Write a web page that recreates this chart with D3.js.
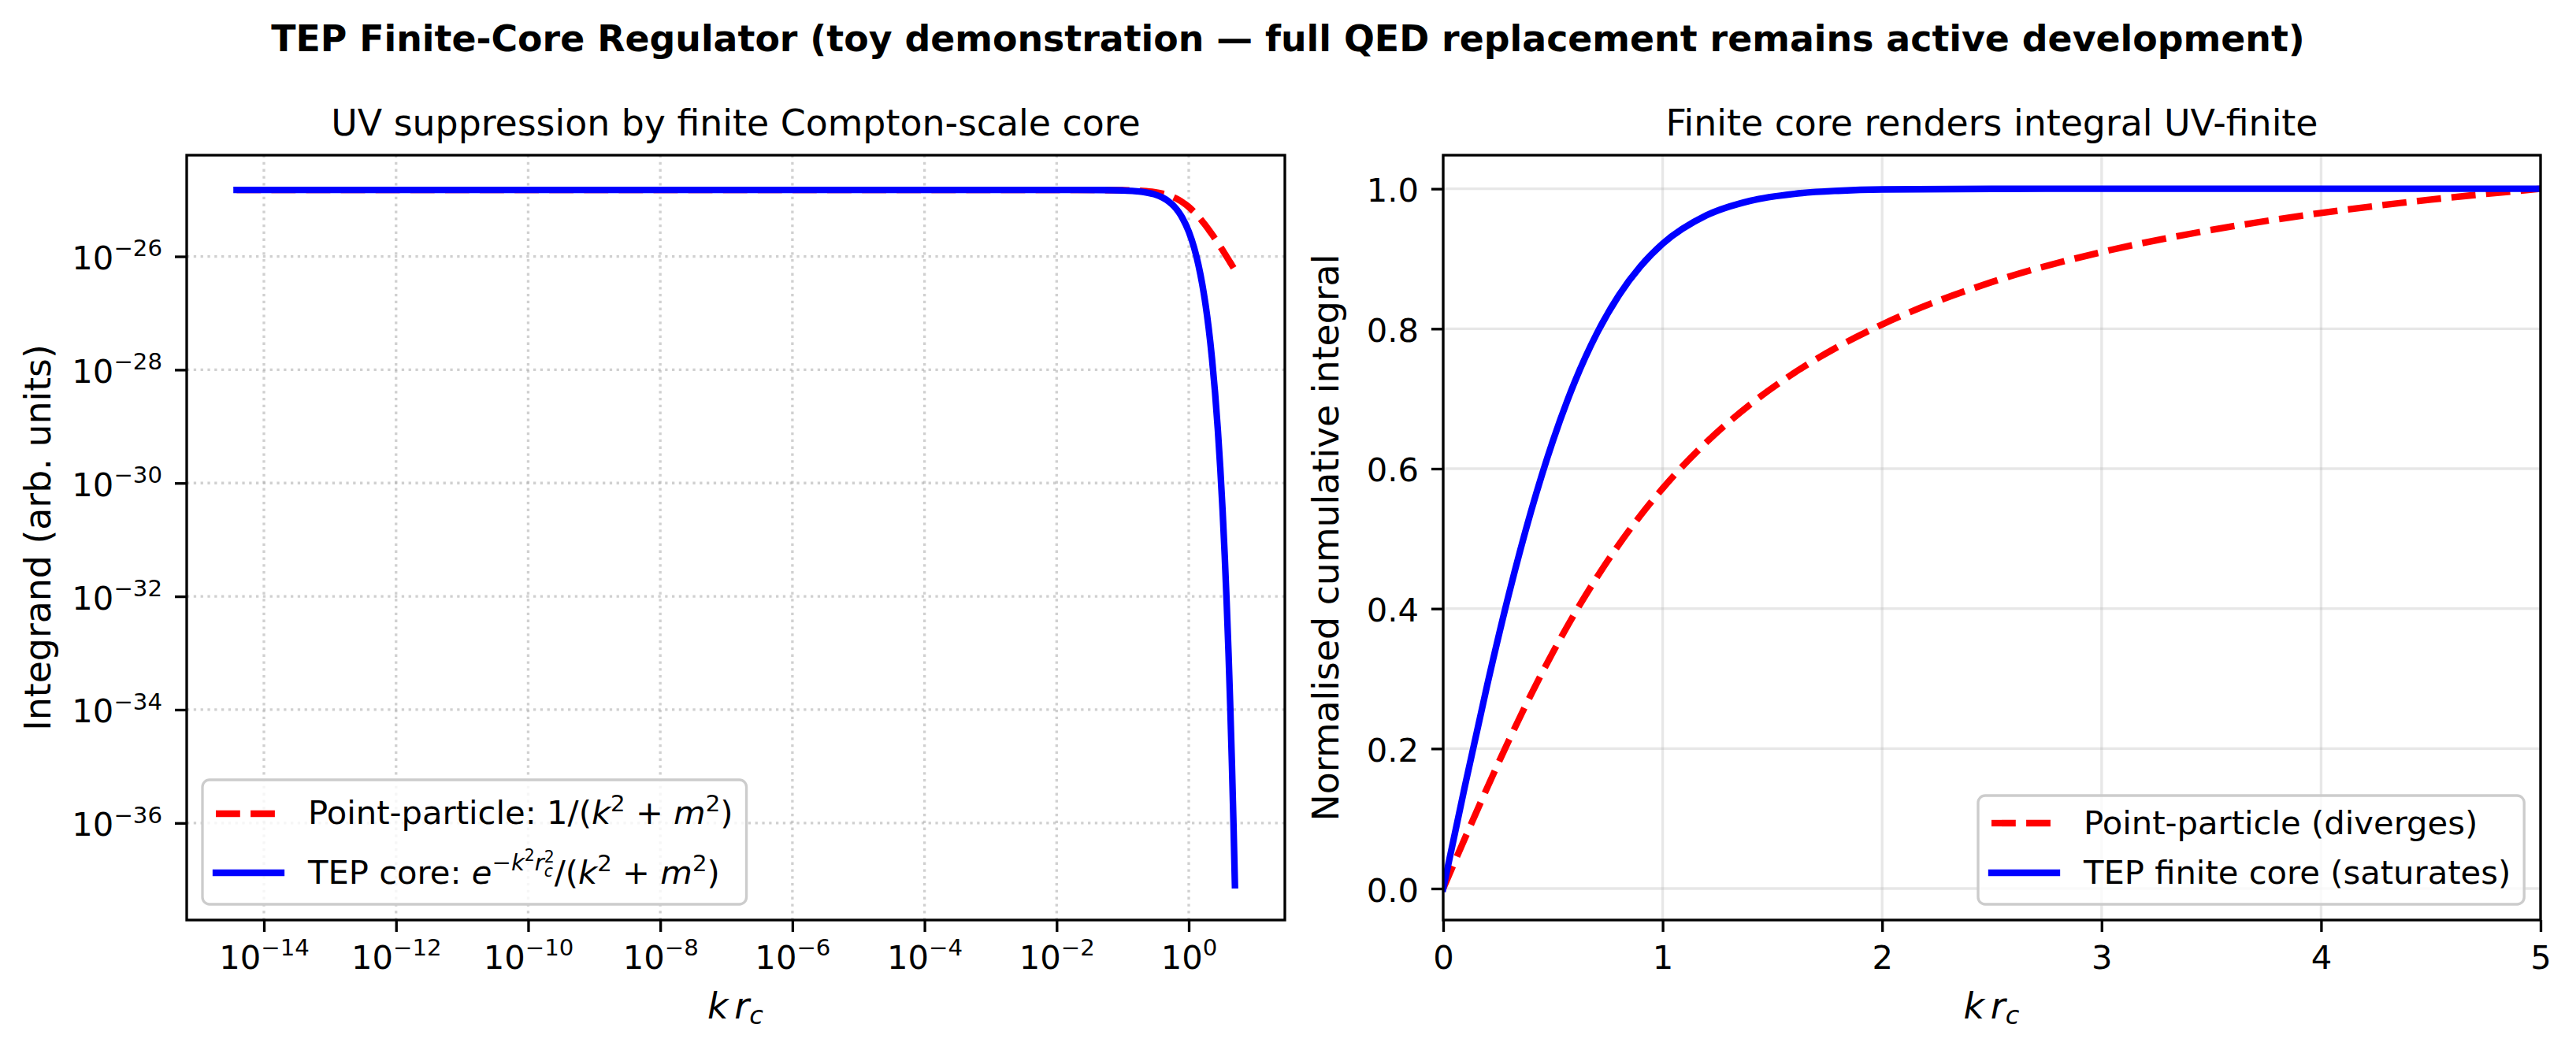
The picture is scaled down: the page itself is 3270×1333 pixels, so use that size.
<!DOCTYPE html>
<html>
<head>
<meta charset="utf-8">
<script src="https://cdn.jsdelivr.net/npm/d3@7"></script>
<style>
body { margin: 0; background: #fff; }
svg text { font-family: "DejaVu Sans", sans-serif; fill: #000; }
</style>
</head>
<body>
<div id="chart-area"></div>
<script>
// ---- data ----
// left panel: k*r_c (log) vs integrand (arb. units)
var kLog = [3.86e-15, 1e-14, 1e-12, 1e-10, 1e-8, 1e-6, 1e-4, 1e-2, 0.05, 0.1, 0.15, 0.2, 0.3, 0.4, 0.5,
    0.6, 0.7, 0.8, 1.0, 1.2, 1.4, 1.6, 1.8, 2.0, 2.25, 2.5, 2.75, 3.0, 3.25, 3.5, 3.75, 4.0, 4.25, 4.5, 4.75, 5.0];
var pointIntegrand = [1.491e-25, 1.491e-25, 1.491e-25, 1.491e-25, 1.491e-25, 1.491e-25, 1.491e-25, 1.491e-25,
    1.487e-25, 1.476e-25, 1.458e-25, 1.434e-25, 1.368e-25, 1.285e-25, 1.193e-25, 1.096e-25, 1.001e-25, 9.09e-26,
    7.46e-26, 6.11e-26, 5.04e-26, 4.19e-26, 3.52e-26, 2.98e-26, 2.459e-26, 2.057e-26, 1.741e-26, 1.491e-26,
    1.290e-26, 1.125e-26, 9.90e-27, 8.77e-27, 7.82e-27, 7.02e-27, 6.33e-27, 5.73e-27];
var coreIntegrand = [1.491e-25, 1.491e-25, 1.491e-25, 1.491e-25, 1.491e-25, 1.491e-25, 1.491e-25, 1.491e-25,
    1.484e-25, 1.461e-25, 1.426e-25, 1.378e-25, 1.250e-25, 1.095e-25, 9.29e-26, 7.65e-26, 6.13e-26, 4.79e-26,
    2.74e-26, 1.448e-26, 7.10e-27, 3.24e-27, 1.378e-27, 5.46e-28, 1.557e-28, 3.97e-29, 9.05e-30, 1.840e-30,
    3.34e-31, 5.38e-32, 7.73e-33, 9.87e-34, 1.121e-34, 1.125e-35, 1.006e-36, 7.96e-38];

// right panel: k*r_c (linear) vs normalised cumulative integral
var kLin = [0, 0.1, 0.2, 0.3, 0.4, 0.5, 0.6, 0.7, 0.8, 0.9, 1.0, 1.2, 1.4, 1.6, 1.8, 2.0, 2.5, 3.0, 3.5, 4.0, 4.5, 5.0];
var pointCumulative = [0, 0.0726, 0.1437, 0.2122, 0.2771, 0.3376, 0.3935, 0.4447, 0.4913, 0.5336, 0.5719,
    0.6379, 0.6921, 0.7370, 0.7745, 0.8061, 0.8667, 0.9095, 0.9411, 0.9654, 0.9845, 1.0];
var coreCumulative = [0, 0.1479, 0.2901, 0.4216, 0.5388, 0.6399, 0.7245, 0.7931, 0.8475, 0.8895, 0.9214,
    0.9621, 0.9829, 0.9928, 0.9971, 0.9990, 0.9999, 1.0, 1.0, 1.0, 1.0, 1.0];

var logTicksX = [1e-14, 1e-12, 1e-10, 1e-8, 1e-6, 1e-4, 1e-2, 1];
var logTicksY = [1e-36, 1e-34, 1e-32, 1e-30, 1e-28, 1e-26];
var linTicksX = [0, 1, 2, 3, 4, 5];
var linTicksY = [0, 0.2, 0.4, 0.6, 0.8, 1.0];

// ---- layout ----
var W = 3270, H = 1333;
var LW = 3.33, TICK_FS = 41.7, LABEL_FS = 45.8, LINE_W = 8.33;
var left = { x0: 237, x1: 1631, y0: 197, y1: 1168 };
var right = { x0: 1832, x1: 3225, y0: 197, y1: 1168 };

var svg = d3.select("#chart-area")
    .append("svg")
    .attr("width", W)
    .attr("height", H)
    .style("background-color", "#fff");

svg.append("text")
    .attr("x", W / 2)
    .attr("y", 65)
    .attr("text-anchor", "middle")
    .attr("font-size", 45.8)
    .attr("font-weight", "bold")
    .text("TEP Finite-Core Regulator (toy demonstration \u2014 full QED replacement remains active development)");

// log-scale limits with 5% margins in decades, like the original
function logPad(values) {
    var lo = Math.log10(d3.min(values)), hi = Math.log10(d3.max(values));
    var m = (hi - lo) * 0.05;
    return [Math.pow(10, lo - m), Math.pow(10, hi + m)];
}

var xL = d3.scaleLog().domain(logPad(kLog)).range([left.x0, left.x1]);
var yL = d3.scaleLog().domain(logPad(pointIntegrand.concat(coreIntegrand))).range([left.y1, left.y0]);
var xR = d3.scaleLinear().domain([0, 5]).range([right.x0, right.x1]);
var yR = d3.scaleLinear().domain([-0.045, 1.048]).range([right.y1, right.y0]);

// math-ish text: parts = [{t, i (italic), s (size), r (rise), dx}]
function mathText(parent, x, y, fs, parts) {
    var t = parent.append("text").attr("x", x).attr("y", y).attr("font-size", fs);
    var cur = 0;
    parts.forEach(function(p) {
        var rise = (p.r || 0) * fs;
        var ts = t.append("tspan")
            .attr("font-size", (p.s || 1) * fs)
            .attr("dy", cur - rise)
            .text(p.t);
        if (p.i) ts.attr("font-style", "italic");
        if (p.dx) ts.attr("dx", p.dx * fs);
        cur = rise;
    });
    return t;
}

function expLabel(sel) {
    sel.each(function(d) {
        var t = d3.select(this).text(null);
        var e = Math.round(Math.log10(d));
        t.append("tspan").text("10");
        t.append("tspan")
            .attr("font-size", TICK_FS * 0.7)
            .attr("dy", -0.4 * TICK_FS)
            .text(e < 0 ? "\u2212" + (-e) : String(e));
    });
}

function drawPanel(box, x, y, ticksX, ticksY, isLog, id) {
    var g = svg.append("g");

    // grid
    var gridStyle = isLog
        ? { stroke: "#b0b0b0", op: 0.6, dash: "3.3,5.5" }
        : { stroke: "#b0b0b0", op: 0.3, dash: null };
    g.selectAll(".gx").data(ticksX).enter().append("line")
        .attr("x1", d => x(d)).attr("x2", d => x(d))
        .attr("y1", box.y0).attr("y2", box.y1)
        .attr("stroke", gridStyle.stroke).attr("stroke-opacity", gridStyle.op)
        .attr("stroke-width", LW).attr("stroke-dasharray", gridStyle.dash);
    g.selectAll(".gy").data(ticksY).enter().append("line")
        .attr("y1", d => y(d)).attr("y2", d => y(d))
        .attr("x1", box.x0).attr("x2", box.x1)
        .attr("stroke", gridStyle.stroke).attr("stroke-opacity", gridStyle.op)
        .attr("stroke-width", LW).attr("stroke-dasharray", gridStyle.dash);

    svg.append("clipPath").attr("id", id)
        .append("rect")
        .attr("x", box.x0).attr("y", box.y0)
        .attr("width", box.x1 - box.x0).attr("height", box.y1 - box.y0);

    var xAxis = g.append("g")
        .attr("transform", "translate(0," + box.y1 + ")")
        .call(d3.axisBottom(x).tickValues(ticksX).tickSize(15).tickSizeOuter(0));
    var yAxis = g.append("g")
        .attr("transform", "translate(" + box.x0 + ",0)")
        .call(d3.axisLeft(y).tickValues(ticksY).tickSize(15).tickSizeOuter(0)
            .tickFormat(isLog ? null : d3.format(".1f")));

    [xAxis, yAxis].forEach(function(a) {
        a.attr("font-size", null).attr("font-family", null);
        a.select(".domain").remove();
        a.selectAll(".tick line").attr("stroke", "#000").attr("stroke-width", LW);
        a.selectAll(".tick text").attr("fill", "#000").attr("font-size", TICK_FS);
    });
    xAxis.selectAll(".tick text").attr("y", 62).attr("dy", null);
    yAxis.selectAll(".tick text").attr("x", -31).attr("y", 16).attr("dy", null);
    if (isLog) {
        xAxis.selectAll(".tick text").call(expLabel);
        yAxis.selectAll(".tick text").call(expLabel);
    } else {
        xAxis.selectAll(".tick text").text(d => d3.format("d")(d));
    }

    // x label  k r_c
    mathText(g, (box.x0 + box.x1) / 2 - 36, 1293, LABEL_FS, [
        { t: "k", i: 1 }, { t: "r", i: 1, dx: 0.17 }, { t: "c", i: 1, s: 0.7, r: -0.16 }
    ]);
    return g;
}

var gl = drawPanel(left, xL, yL, logTicksX, logTicksY, true, "clipL");
var gr = drawPanel(right, xR, yR, linTicksX, linTicksY, false, "clipR");

// panel titles
gl.append("text").attr("x", (left.x0 + left.x1) / 2).attr("y", 172)
    .attr("text-anchor", "middle").attr("font-size", LABEL_FS)
    .text("UV suppression by finite Compton-scale core");
gr.append("text").attr("x", (right.x0 + right.x1) / 2).attr("y", 172)
    .attr("text-anchor", "middle").attr("font-size", LABEL_FS)
    .text("Finite core renders integral UV-finite");

// y labels
gl.append("text")
    .attr("transform", "translate(64," + (left.y0 + left.y1) / 2 + ") rotate(-90)")
    .attr("text-anchor", "middle").attr("font-size", LABEL_FS)
    .text("Integrand (arb. units)");
gr.append("text")
    .attr("transform", "translate(1699," + (right.y0 + right.y1) / 2 + ") rotate(-90)")
    .attr("text-anchor", "middle").attr("font-size", LABEL_FS)
    .text("Normalised cumulative integral");

// curves
function drawCurve(g, clip, xs, ys, x, y, color, dashed) {
    var line = d3.line()
        .x((d, i) => x(xs[i]))
        .y(d => y(d))
        .curve(d3.curveMonotoneX);
    g.append("path")
        .datum(ys)
        .attr("clip-path", "url(#" + clip + ")")
        .attr("d", line)
        .attr("fill", "none")
        .attr("stroke", color)
        .attr("stroke-width", LINE_W)
        .attr("stroke-linejoin", "round")
        .attr("stroke-linecap", dashed ? "butt" : "square")
        .attr("stroke-dasharray", dashed ? "30.8,13.3" : null);
}

drawCurve(gl, "clipL", kLog, pointIntegrand, xL, yL, "#ff0000", true);
drawCurve(gl, "clipL", kLog, coreIntegrand, xL, yL, "#0000ff", false);
drawCurve(gr, "clipR", kLin, pointCumulative, xR, yR, "#ff0000", true);
drawCurve(gr, "clipR", kLin, coreCumulative, xR, yR, "#0000ff", false);

// spines
[left, right].forEach(function(b) {
    svg.append("rect")
        .attr("x", b.x0).attr("y", b.y0)
        .attr("width", b.x1 - b.x0).attr("height", b.y1 - b.y0)
        .attr("fill", "none").attr("stroke", "#000").attr("stroke-width", LW);
});

// legends
function legend(boxLeft, boxTop, boxBottom, rows, anchorRight) {
    var lg = svg.append("g");
    var frame = lg.append("rect")
        .attr("y", boxTop).attr("height", boxBottom - boxTop)
        .attr("rx", 9).attr("ry", 9)
        .attr("fill", "#fff").attr("fill-opacity", 0.8)
        .attr("stroke", "#cccccc").attr("stroke-width", LW);
    var inner = lg.append("g");
    var maxW = 0;
    rows.forEach(function(r) {
        inner.append("line")
            .attr("x1", 17).attr("x2", 100)
            .attr("y1", r.lineY).attr("y2", r.lineY)
            .attr("stroke", r.color).attr("stroke-width", LINE_W)
            .attr("stroke-linecap", r.dashed ? "butt" : "square")
            .attr("stroke-dasharray", r.dashed ? "30.8,13.3" : null);
        var t = mathText(inner, 134, r.textY, TICK_FS, r.parts);
        maxW = Math.max(maxW, t.node().getComputedTextLength());
    });
    var bw = 134 + maxW + 17;
    var x0 = anchorRight ? anchorRight - bw : boxLeft;
    frame.attr("x", x0).attr("width", bw);
    inner.attr("transform", "translate(" + x0 + ",0)");
}

legend(257, 990, 1148, [
    { color: "#ff0000", dashed: true, lineY: 1033, textY: 1046, parts: [
        { t: "Point-particle: 1/(" }, { t: "k", i: 1 }, { t: "2", s: 0.7, r: 0.38 },
        { t: " + " }, { t: "m", i: 1 }, { t: "2", s: 0.7, r: 0.38 }, { t: ")" }] },
    { color: "#0000ff", dashed: false, lineY: 1108, textY: 1122, parts: [
        { t: "TEP core: " }, { t: "e", i: 1 }, { t: "\u2212k", i: 1, s: 0.7, r: 0.4 },
        { t: "2", s: 0.49, r: 0.7 }, { t: "r", i: 1, s: 0.7, r: 0.4 },
        { t: "c", i: 1, s: 0.49, r: 0.22 }, { t: "2", s: 0.49, r: 0.65, dx: -0.27 },
        { t: "/(" }, { t: "k", i: 1 }, { t: "2", s: 0.7, r: 0.38 },
        { t: " + " }, { t: "m", i: 1 }, { t: "2", s: 0.7, r: 0.38 }, { t: ")" }] }
], null);

legend(null, 1010, 1148, [
    { color: "#ff0000", dashed: true, lineY: 1045, textY: 1059, parts: [{ t: "Point-particle (diverges)" }] },
    { color: "#0000ff", dashed: false, lineY: 1108, textY: 1122, parts: [{ t: "TEP finite core (saturates)" }] }
], right.x1 - 20.8);
</script>
</body>
</html>
